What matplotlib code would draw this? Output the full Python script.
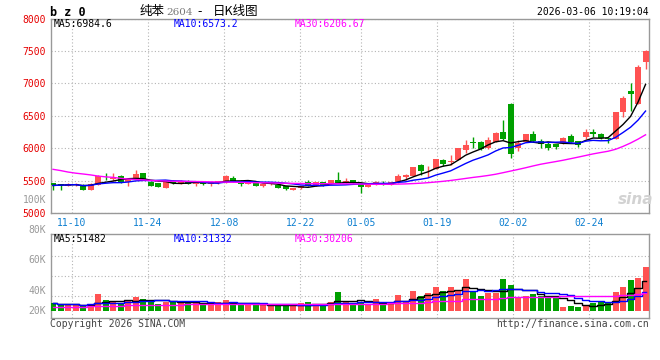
import matplotlib
matplotlib.use("Agg")
import matplotlib.pyplot as plt
import pandas as pd

W, H = 660, 360

# daily K data, 2025-11-05 .. 2026-03-06 (80 sessions)
opens = [5460, 5445, 5420, 5425, 5433, 5362, 5433, 5545, 5530, 5577,
         5480, 5526, 5618, 5484, 5464, 5387, 5500, 5449, 5500, 5440,
         5470, 5440, 5459, 5474, 5536, 5500, 5449, 5459, 5413, 5440,
         5433, 5413, 5356, 5382, 5474, 5438, 5474, 5459, 5510, 5474,
         5510, 5449, 5408, 5436, 5461, 5436, 5472, 5554, 5574, 5744,
         5656, 5682, 5820, 5790, 5820, 5974, 6092, 6103, 6000, 6103,
         6256, 6680, 6000, 6100, 6225, 6110, 6060, 6060, 6085, 6185,
         6105, 6175, 6255, 6225, 6150, 6140, 6565, 6875, 6685, 7335]
highs = [5470, 5450, 5460, 5460, 5440, 5460, 5585, 5610, 5610, 5585,
         5530, 5669, 5620, 5500, 5470, 5490, 5505, 5505, 5505, 5475,
         5490, 5475, 5495, 5592, 5567, 5505, 5515, 5465, 5455, 5462,
         5440, 5418, 5390, 5420, 5510, 5480, 5480, 5515, 5628, 5536,
         5515, 5455, 5455, 5500, 5500, 5480, 5605, 5595, 5715, 5760,
         5728, 5840, 5836, 5897, 6005, 6128, 6180, 6110, 6180, 6250,
         6436, 6690, 6125, 6220, 6260, 6140, 6100, 6070, 6175, 6215,
         6110, 6290, 6300, 6235, 6165, 6565, 6800, 7000, 7285, 7515]
lows = [5355, 5360, 5410, 5415, 5355, 5355, 5425, 5510, 5500, 5465,
        5420, 5520, 5510, 5415, 5400, 5380, 5455, 5440, 5440, 5420,
        5430, 5420, 5450, 5470, 5485, 5423, 5445, 5413, 5405, 5435,
        5380, 5356, 5350, 5375, 5418, 5413, 5418, 5455, 5460, 5459,
        5460, 5305, 5400, 5430, 5430, 5430, 5460, 5513, 5570, 5590,
        5554, 5680, 5718, 5744, 5815, 5923, 6000, 5975, 5995, 6100,
        6130, 5850, 5950, 6095, 6100, 6000, 5975, 5985, 6070, 6095,
        6015, 6135, 6175, 6135, 6075, 6135, 6475, 6575, 6680, 7225]
closes = [5425, 5435, 5440, 5450, 5362, 5449, 5577, 5535, 5540, 5474,
          5520, 5602, 5515, 5423, 5408, 5484, 5464, 5500, 5455, 5470,
          5445, 5472, 5490, 5577, 5490, 5449, 5500, 5423, 5449, 5459,
          5387, 5372, 5387, 5413, 5423, 5474, 5423, 5510, 5464, 5490,
          5464, 5408, 5436, 5472, 5436, 5477, 5574, 5590, 5708, 5641,
          5667, 5836, 5759, 5810, 6000, 6051, 6087, 5985, 6128, 6241,
          6138, 5910, 6085, 6215, 6115, 6060, 6010, 6025, 6165, 6100,
          6050, 6255, 6215, 6150, 6139, 6560, 6768, 6835, 7260, 7500]
volumes = [13700, 9700, 11400, 9700, 8000, 11400, 28500, 18300, 14200, 12500,
           16600, 23900, 20000, 18300, 11400, 15400, 16600, 14200, 12500, 13700,
           11400, 9700, 14200, 18300, 14200, 11400, 11400, 9700, 9700, 9700,
           8000, 8000, 9700, 12500, 14200, 11400, 9700, 14200, 31300, 16600,
           11400, 15400, 11400, 20000, 11400, 11400, 26800, 17100, 33600, 25100,
           29500, 41000, 33600, 41000, 33600, 54100, 31300, 25100, 30700, 30700,
           54100, 43900, 22700, 25600, 27800, 25100, 25100, 22700, 6800, 8000,
           6000, 9400, 12800, 14500, 14500, 32500, 41000, 52400, 56400, 75200]
ma30_price = [5674, 5655, 5632, 5615, 5602, 5588, 5570, 5558, 5550, 5535,
              5524, 5517, 5511, 5503, 5497, 5493, 5490, 5489, 5488, 5486,
              5484, 5481, 5479, 5477, 5475, 5473, 5470, 5468, 5466, 5464,
              5462, 5459, 5457, 5455, 5454, 5453, 5452, 5452, 5451, 5450,
              5449, 5446, 5444, 5443, 5443, 5444, 5446, 5449, 5454, 5460,
              5468, 5478, 5489, 5502, 5517, 5533, 5549, 5563, 5579, 5598,
              5622, 5647, 5672, 5698, 5726, 5752, 5773, 5793, 5814, 5838,
              5862, 5887, 5912, 5933, 5953, 5983, 6028, 6080, 6140, 6206.67]
ma30_vol = [6000, 6000, 6100, 6200, 6300, 7800, 8000, 8100, 8200, 8400,
            9000, 9400, 9700, 9900, 10000, 10100, 10300, 10500, 10600, 10700,
            10800, 10800, 10900, 10900, 11000, 11000, 11000, 11100, 11100, 11200,
            11200, 11300, 11300, 11400, 11400, 11400, 11500, 11500, 11600, 11700,
            11800, 11900, 12000, 12100, 12200, 12300, 12400, 12500, 12500, 12600,
            15500, 16500, 16500, 16800, 17000, 19500, 20000, 20200, 20400, 20600,
            22200, 22700, 22700, 22800, 22900, 23000, 23000, 23100, 24500, 25000,
            25100, 25100, 25200, 25200, 25300, 25500, 26800, 27500, 28500, 30206]

tick_idx = [3, 13, 23, 33, 41, 51, 61, 71]
tick_labels = ['11-10', '11-24', '12-08', '12-22', '01-05', '01-19', '02-02', '02-24']
price_legend = ['MA5:6984.6', 'MA10:6573.2', 'MA30:6206.67']
vol_legend = ['MA5:51482', 'MA10:31332', 'MA30:30206']
vol_axis_labels = ['100K', '80K', '60K', '40K', '20K']

RED = '#ff5252'
GREEN = '#00a000'
GRAY = '#999999'
MONO = 'DejaVu Sans Mono'
CJK = 'Noto Sans CJK SC'

x = list(range(len(closes)))
up = [c >= o for o, c in zip(opens, closes)]
colors = [RED if u else GREEN for u in up]
cs = pd.Series(closes)
vs = pd.Series(volumes)
ma5 = cs.rolling(5, min_periods=1).mean()
ma10 = cs.rolling(10, min_periods=1).mean()
vma5 = vs.rolling(5, min_periods=1).mean()
vma10 = vs.rolling(10, min_periods=1).mean()

# sina's date grid drifts a little against the candles
tick_pos = [i * 1.0145 - 0.52 for i in tick_idx]


def box(l, t, r, b):
    return [l / W, 1 - b / H, (r - l) / W, (b - t) / H]


def txt(px, py, s, **kw):
    kw.setdefault('family', MONO)
    kw.setdefault('size', 7)
    fig.text(px / W, 1 - py / H, s, va='center', **kw)


fig = plt.figure(figsize=(W / 100, H / 100), dpi=100)
fig.patch.set_facecolor('white')

ax = fig.add_axes(box(50.7, 18.6, 649.3, 213))
axv = fig.add_axes(box(50.7, 234.3, 649.3, 318.3))

# candles
bottoms = [min(o, c) for o, c in zip(opens, closes)]
heights = [max(abs(c - o), 12) for o, c in zip(opens, closes)]
ax.vlines(x, lows, highs, colors=colors, lw=1, zorder=2)
ax.bar(x, heights, bottom=bottoms, width=0.8, color=colors, lw=0, zorder=3)
ax.plot(x, ma5, color='black', lw=1, zorder=4)
ax.plot(x, ma10, color='#0000ff', lw=1, zorder=4)
ax.plot(x, ma30_price, color='#ff00ff', lw=1, zorder=4)

ax.set_xlim(-0.31, 79.5)
ax.set_ylim(5000, 8000)
ax.set_yticks(range(5000, 8001, 500))
ax.set_xticks(tick_pos)
ax.set_xticklabels(tick_labels)

# volume
axv.bar(x, volumes, width=0.8, color=colors, lw=0, zorder=3)
axv.plot(x, vma5, color='black', lw=1, drawstyle='steps-mid', zorder=4)
axv.plot(x, vma10, color='#0000ff', lw=1, drawstyle='steps-mid', zorder=4)
axv.plot(x, ma30_vol, color='#ff00ff', lw=1, drawstyle='steps-mid', zorder=4)
vlo, vhi = -12981, 130491
axv.set_xlim(-0.31, 79.5)
axv.set_ylim(vlo, vhi)
axv.set_yticks([vlo + f * (vhi - vlo) for f in (0.269, 0.507, 0.745)])
axv.set_yticklabels([])
axv.set_xticks(tick_pos)
axv.set_xticklabels([])

for a in (ax, axv):
    a.set_facecolor('white')
    a.grid(True, color='#b4b4b4', linestyle=(0, (1, 2)), lw=0.8, zorder=0)
    a.set_axisbelow(True)
    for sp in a.spines.values():
        sp.set_color(GRAY)
        sp.set_linewidth(1)
    a.tick_params(length=0)

ax.tick_params(axis='y', pad=3.4, labelcolor='#e60000', labelsize=7)
ax.tick_params(axis='x', pad=3.6, labelcolor='#0d7fd0', labelsize=7)
for lab in ax.get_xticklabels() + ax.get_yticklabels():
    lab.set_family(MONO)

# header
txt(50, 12, 'b z 0', weight='bold', size=8.5)
txt(140, 12, '纯苯', family=CJK, size=9)
txt(166, 12.5, '2604', family='DejaVu Serif', size=7.5, color='#777777')
txt(197, 12, '-', family=CJK, size=9)
txt(213, 12, '日K线图', family=CJK, size=9)
txt(648.3, 12, '2026-03-06 10:19:04', ha='right')

for px, s, c in zip((54, 174, 295), price_legend, ('black', '#0000ff', '#ff00ff')):
    txt(px, 24, s, color=c)
for px, s, c in zip((54, 174, 295), vol_legend, ('black', '#0000ff', '#ff00ff')):
    txt(px, 239.5, s, color=c)

for py, s in zip((200, 230.5, 260, 290.7, 310.7), vol_axis_labels):
    txt(46, py, s, ha='right', color=GRAY)

txt(636, 199, 'sina', family='DejaVu Sans', size=11, weight='bold',
    style='italic', color='#d2d2d2', ha='center')
txt(50, 324, 'Copyright 2026 SINA.COM', color='#444444')
txt(649.3, 324, 'http://finance.sina.com.cn', ha='right', color='#444444')

fig.savefig('out.png', dpi=100, facecolor='white')
